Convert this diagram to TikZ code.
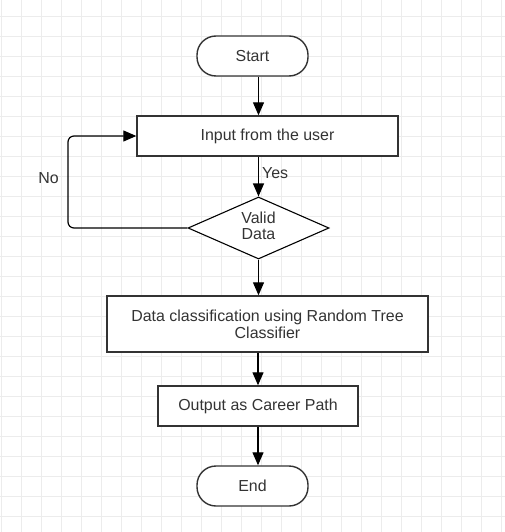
\documentclass[tikz,border=0pt]{standalone}
\usepackage{fontspec}
\setmainfont{Liberation Sans}
\usetikzlibrary{arrows.meta,shapes.geometric}
\definecolor{gridc}{RGB}{236,236,236}
\definecolor{linec}{RGB}{51,51,51}
\definecolor{textc}{RGB}{51,51,51}
\begin{document}
\begin{tikzpicture}[x=1bp,y=-1bp,
  every node/.style={font=\fontsize{16}{17}\selectfont, text=textc, align=center},
  box/.style={draw=linec, line width=1.4bp, fill=white, inner sep=0pt},
  term/.style={box, rounded corners=19bp},
  dec/.style={draw=black, line width=1.1bp, fill=white, shape=diamond, inner sep=0pt, aspect=2.27},
  arr/.style={draw=black, line width=1.2bp, -{Triangle[length=13bp,width=11bp]}},
  lbl/.style={inner sep=0pt}
]
\useasboundingbox (0,0) rectangle (505,532);
\fill[white] (0,0) rectangle (505,532);
% grid
\foreach \gx in {1,21,...,501} \draw[gridc, line width=0.9bp] (\gx,0) -- (\gx,532);
\foreach \gy in {16,36,...,532} \draw[gridc, line width=0.9bp] (0,\gy) -- (505,\gy);

\node[term, minimum width=111bp, minimum height=40bp] (start) at (252.5,56) {Start};
\node[box, minimum width=261bp, minimum height=40bp] (input) at (267.5,136) {Input from the user};
\node[dec, minimum width=141bp, minimum height=62bp] (dia) at (258.5,228) {};
\node[lbl] (diatext) at (258.5,226) {Valid\\[-1bp]Data};
\node[box, minimum width=321bp, minimum height=56bp] (data) at (267.5,324) {Data classification using Random Tree\\Classifier};
\node[box, minimum width=200bp, minimum height=40bp] (output) at (258,406) {Output as Career Path};
\node[term, minimum width=111bp, minimum height=40bp] (end) at (252.5,486) {End};

\coordinate (loopx) at (68,0);

\draw[arr] (start.south -| dia) -- (input.north -| dia);
\draw[arr] (input.south -| dia) -- node[lbl, anchor=west, pos=0.42, xshift=3bp] (yes) {Yes} (dia.north);
\draw[arr] (dia.south) -- (data.north -| dia);
\draw[arr] (data.south -| output) -- (output.north);
\draw[arr] (output.south) -- (end.north -| output);
\draw[arr, rounded corners=6bp] (dia.west) -- (dia.west -| loopx) -- (input.west -| loopx) -- (input.west);
\node[lbl] (no) at (48.5,178) {No};
\end{tikzpicture}
\end{document}
